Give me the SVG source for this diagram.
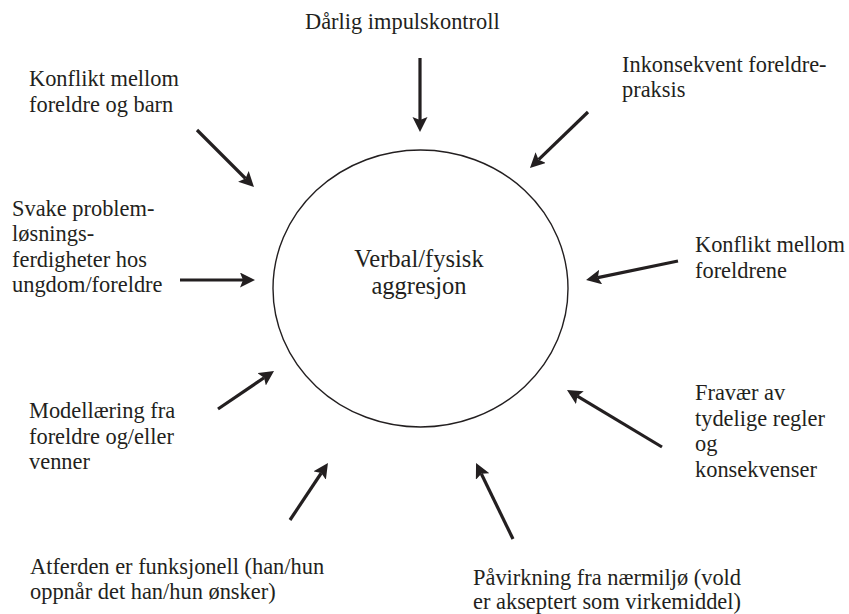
<svg xmlns="http://www.w3.org/2000/svg" width="849" height="614" viewBox="0 0 849 614">
<style>
text{font-family:'Liberation Serif','Times New Roman',Tinos,'DejaVu Serif',serif;fill:#231f20}
.t{font-size:22.4px}
.c{font-size:24.5px;text-anchor:middle}
.a{stroke:#231f20;stroke-width:3.2;fill:none;marker-end:url(#ah)}
</style>
<defs>
<marker id="ah" markerUnits="userSpaceOnUse" markerWidth="18" markerHeight="16" refX="3" refY="7.5" orient="auto" viewBox="0 0 18 16">
<path d="M0,0 L15,7.5 L0,15 L3,7.5 Z" fill="#231f20"/>
</marker>
</defs>
<rect width="849" height="614" fill="#ffffff"/>
<g id="center">
<ellipse cx="420.5" cy="288.5" rx="147.5" ry="138.5" fill="none" stroke="#231f20" stroke-width="1.4"/>
<text class="c" x="419" y="267">Verbal/fysisk</text>
<text class="c" x="419" y="294">aggresjon</text>
</g>
<g id="n-impuls"><text class="t" x="305" y="29">Dårlig impulskontroll</text></g>
<g id="n-konflikt-barn"><text class="t" x="29" y="86">Konflikt mellom</text><text class="t" x="29" y="112">foreldre og barn</text></g>
<g id="n-inkonsekvent"><text class="t" x="622" y="72">Inkonsekvent foreldre-</text><text class="t" x="622" y="97">praksis</text></g>
<g id="n-svake"><text class="t" x="12" y="216">Svake problem-</text><text class="t" x="12" y="241">løsnings-</text><text class="t" x="12" y="266.5">ferdigheter hos</text><text class="t" x="12" y="292">ungdom/foreldre</text></g>
<g id="n-konflikt-foreldre"><text class="t" x="695" y="252">Konflikt mellom</text><text class="t" x="695" y="278">foreldrene</text></g>
<g id="n-modell"><text class="t" x="29" y="418">Modellæring fra</text><text class="t" x="29" y="443.5">foreldre og/eller</text><text class="t" x="29" y="469">venner</text></g>
<g id="n-fravaer"><text class="t" x="695" y="400">Fravær av</text><text class="t" x="695" y="425.5">tydelige regler</text><text class="t" x="695" y="451">og</text><text class="t" x="695" y="476.5">konsekvenser</text></g>
<g id="n-atferden"><text class="t" x="30" y="574">Atferden er funksjonell (han/hun</text><text class="t" x="30" y="599">oppnår det han/hun ønsker)</text></g>
<g id="n-pavirkning"><text class="t" x="473" y="585">Påvirkning fra nærmiljø (vold</text><text class="t" x="473" y="609">er akseptert som virkemiddel)</text></g>
<g id="connectors">
<line class="a" x1="420" y1="58" x2="420" y2="120"/>
<line class="a" x1="197" y1="130" x2="245.5" y2="178.5"/>
<line class="a" x1="588" y1="112" x2="538.6" y2="159.7"/>
<line class="a" x1="180" y1="280" x2="243" y2="280"/>
<line class="a" x1="218" y1="409" x2="264.1" y2="377.7"/>
<line class="a" x1="678" y1="261" x2="597.8" y2="277.6"/>
<line class="a" x1="662" y1="447" x2="577.3" y2="396.2"/>
<line class="a" x1="290" y1="520" x2="321.3" y2="473"/>
<line class="a" x1="513" y1="539" x2="481.3" y2="473.8"/>
</g>
</svg>
